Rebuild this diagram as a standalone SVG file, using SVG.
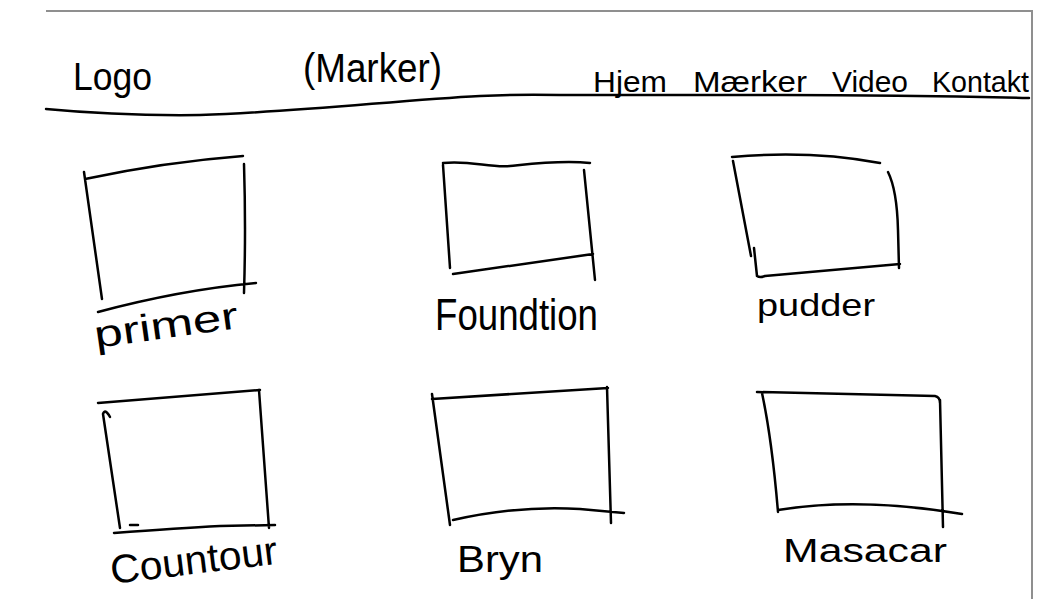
<svg xmlns="http://www.w3.org/2000/svg" width="1059" height="599" viewBox="0 0 1059 599">
<style>
.frame{fill:none;stroke:#8f8f8f;stroke-width:2}
.ink{fill:none;stroke:#000;stroke-width:2.5;stroke-linecap:round;stroke-linejoin:round}
.hand{font-family:"Liberation Sans","DejaVu Sans",sans-serif;fill:#000;font-weight:normal}
</style>
<rect width="1059" height="599" fill="#fff"/>
<g id="frame">
<path class="frame" d="M46,11 L1032,11 L1032,599"/>
</g>
<g id="header">
<path class="ink" d="M46,109 Q120,116 200,115 C300,112 400,100 480,96 Q520,94 560,95 L780,95 Q900,95 1029,98"/>
<text class="hand" x="73" y="90" font-size="38" textLength="79" lengthAdjust="spacingAndGlyphs">Logo</text>
<text class="hand" x="303" y="82" font-size="40" textLength="139" lengthAdjust="spacingAndGlyphs">(Marker)</text>
<text class="hand" x="593" y="92" font-size="30" textLength="74" lengthAdjust="spacingAndGlyphs">Hjem</text>
<text class="hand" x="693" y="92" font-size="30" textLength="114" lengthAdjust="spacingAndGlyphs">Mærker</text>
<text class="hand" x="832" y="92" font-size="30" textLength="76" lengthAdjust="spacingAndGlyphs">Video</text>
<text class="hand" x="932" y="92" font-size="30" textLength="97" lengthAdjust="spacingAndGlyphs">Kontakt</text>
</g>
<g id="primer">
<path class="ink" d="M85,179 Q165,162 243,156 M84,172 L102,299 M244,164 Q246,230 244,293 M98,312 Q180,290 256,283"/>
<text class="hand" transform="translate(96,348) rotate(-8)" font-size="38" textLength="145" lengthAdjust="spacingAndGlyphs">primer</text>
</g>
<g id="foundation">
<path class="ink" d="M443,163 C470,160 490,168 510,166 S560,160 590,163 M443,165 L450,268 M584,170 L595,280 M453,274 L593,254"/>
<text class="hand" x="435" y="330" font-size="44" textLength="163" lengthAdjust="spacingAndGlyphs">Foundtion</text>
</g>
<g id="pudder">
<path class="ink" d="M732,157 Q810,150 880,163 M733,161 L751,256 M754,248 L757,276 Q760,278 765,276 L900,264 M888,172 Q897,190 898,230 L899,268"/>
<text class="hand" x="757" y="316" font-size="32" textLength="118" lengthAdjust="spacingAndGlyphs">pudder</text>
</g>
<g id="countour">
<path class="ink" d="M98,403 L260,390 M110,417 Q105,408 103,414 L120,528 M130,525 L138,525 M259,390 L269,528 M114,533 Q180,528 220,526 L275,525"/>
<text class="hand" transform="translate(112,584) rotate(-7)" font-size="40" textLength="168" lengthAdjust="spacingAndGlyphs">Countour</text>
</g>
<g id="bryn">
<path class="ink" d="M432,399 L608,388 M432,394 L450,525 M607,387 L611,523 M453,520 Q520,505 580,509 L624,513"/>
<text class="hand" x="457" y="572" font-size="36" textLength="86" lengthAdjust="spacingAndGlyphs">Bryn</text>
</g>
<g id="masacar">
<path class="ink" d="M757,392 L935,396 Q940,397 940,403 M762,393 Q772,440 778,512 M940,400 L943,527 M778,510 Q860,497 962,514"/>
<text class="hand" x="783" y="562" font-size="34" textLength="164" lengthAdjust="spacingAndGlyphs">Masacar</text>
</g>
</svg>
